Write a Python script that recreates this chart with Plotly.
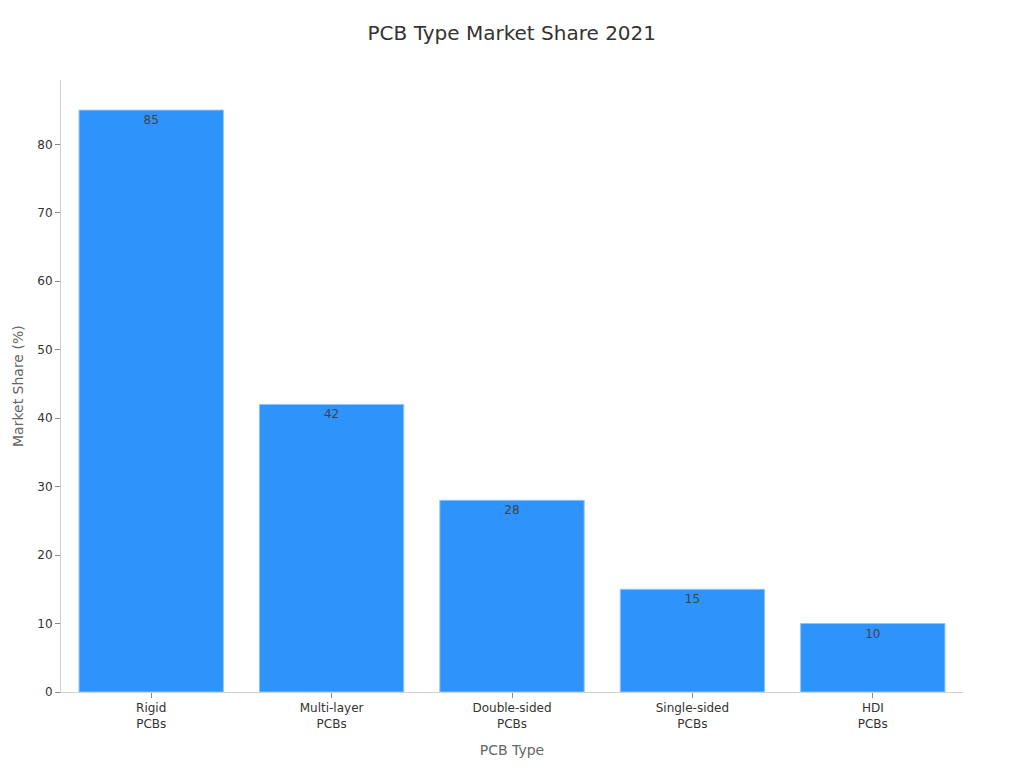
import plotly.graph_objects as go

categories = ["Rigid<br>PCBs", "Multi-layer<br>PCBs", "Double-sided<br>PCBs", "Single-sided<br>PCBs", "HDI<br>PCBs"]
market_share = [85, 42, 28, 15, 10]

fig = go.Figure()
fig.add_trace(
    go.Bar(
        x=categories,
        y=market_share,
        text=market_share,
        textposition="inside",
        insidetextanchor="end",
        textfont=dict(color="#444444", size=12),
        marker=dict(color="#2E93FA", line=dict(color="#8CC4FC", width=1)),
        showlegend=False,
    )
)

fig.update_layout(
    width=1024,
    height=768,
    font=dict(family="DejaVu Sans", size=12, color="#333333"),
    title=dict(text="PCB Type Market Share 2021", x=0.492, xanchor="center",
               yref="container", y=0.967, yanchor="middle",
               font=dict(size=20, color="#333333")),
    margin=dict(t=72, b=84, l=53, r=69),
    bargap=0.2,
    plot_bgcolor="white",
    paper_bgcolor="white",
)
# y title as annotation so it sits close to the left edge like the original
fig.add_annotation(
    text="Market Share (%)", textangle=-90,
    xref="paper", yref="paper", x=0, y=0.5,
    xanchor="center", yanchor="middle", xshift=-43,
    showarrow=False, font=dict(size=14, color="#666666"),
)
fig.update_xaxes(
    title=dict(text="PCB Type", font=dict(size=14, color="#666666")),
    showline=True, linecolor="#d0d0d0", linewidth=1,
    ticks="outside", tickcolor="#888888", ticklen=5,
    tickfont=dict(size=12, color="#333333"),
)
fig.update_yaxes(
    automargin=False,
    range=[0, 89.4],
    showline=True, linecolor="#d0d0d0", linewidth=1,
    ticks="outside", tickcolor="#888888", ticklen=5,
    showgrid=False, zeroline=False,
    tickfont=dict(size=12, color="#333333"),
    dtick=10,
)

fig.write_html("out.html")
